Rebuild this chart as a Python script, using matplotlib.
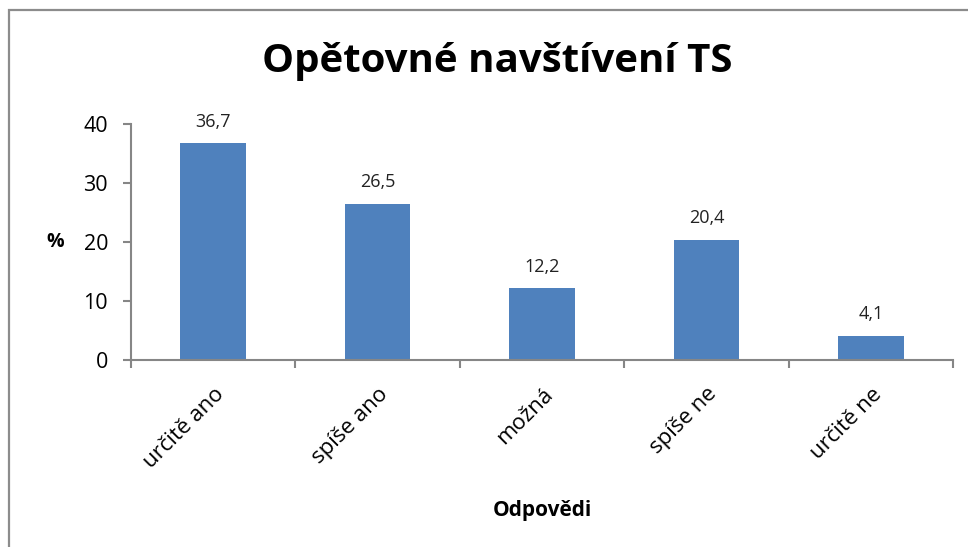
import numpy as np
import matplotlib.pyplot as plt
from matplotlib.patches import Rectangle

plt.rcParams['font.family'] = ['Open Sans', 'DejaVu Sans']

# data
odpovedi = ['určitě ano', 'spíše ano', 'možná', 'spíše ne', 'určitě ne']
procenta = [36.7, 26.5, 12.2, 20.4, 4.1]
popisky = ['36,7', '26,5', '12,2', '20,4', '4,1']

fig = plt.figure(figsize=(9.68, 5.47), dpi=100)
ax = fig.add_axes([131/968, 1-360/547, (953-131)/968, (360-124)/547])

x = np.arange(len(odpovedi))
bars = ax.bar(x, procenta, width=0.40, color='#4F81BD', zorder=2)

# popisky hodnot
for xi, v, t in zip(x, procenta, popisky):
    ax.annotate(t, (xi, v), xytext=(0, 9), textcoords='offset points',
                ha='center', va='bottom', fontsize=13, color='#222222')

ax.set_xlim(-0.5, len(odpovedi)-0.5)
ax.set_ylim(0, 40)
ax.set_yticks([0, 10, 20, 30, 40])
ax.tick_params(axis='y', labelsize=15.5, length=5.5, width=1.5, color='#868686', pad=11)

# ticky osy x mezi kategoriemi
ax.set_xticks(np.arange(-0.5, len(odpovedi)), minor=False)
ax.set_xticklabels([])
ax.set_xticks(x, minor=True)
ax.set_xticklabels(odpovedi, minor=True, rotation=45, ha='right',
                   rotation_mode='anchor', fontsize=16)
ax.tick_params(axis='x', which='major', length=6, width=1.5, color='#868686')
ax.tick_params(axis='x', which='minor', length=0, pad=17)

for s in ['top', 'right']:
    ax.spines[s].set_visible(False)
for s in ['left', 'bottom']:
    ax.spines[s].set_color('#868686')
    ax.spines[s].set_linewidth(1.5)

ax.set_ylabel('%', fontsize=14, fontweight='bold', rotation=0, labelpad=0,
              va='center', ha='center')
ax.yaxis.set_label_coords(-0.092, 0.5)
ax.set_xlabel('Odpovědi', fontsize=15, fontweight='bold')
ax.xaxis.set_label_coords(0.5, -0.595)

fig.text(497/968, 1-62/547, 'Opětovné navštívení TS', ha='center', va='center',
         fontsize=29, fontweight='bold')

# ramecek grafu
fig.patches.append(Rectangle((9/968, -0.1), 1.2, 1-10/547+0.1, transform=fig.transFigure,
                             fill=False, edgecolor='#8c8c8c', linewidth=1.6))

fig.savefig('out.png', dpi=100)
